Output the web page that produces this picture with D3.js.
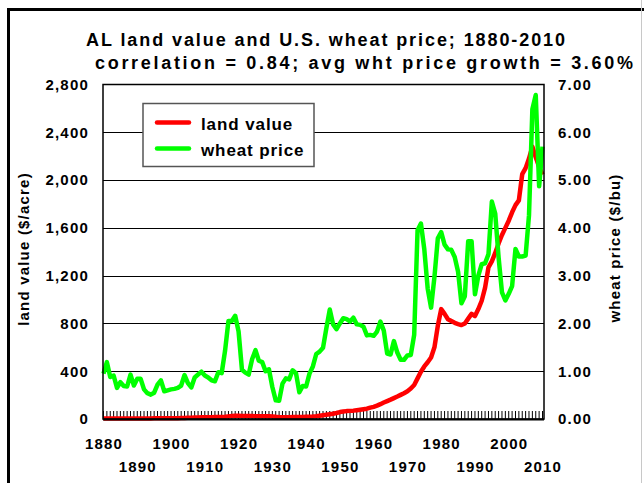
<!DOCTYPE html>
<html>
<head>
<meta charset="utf-8">
<script src="https://cdn.jsdelivr.net/npm/d3@7"></script>
<style>
  body { margin: 0; background: #fff; }
  svg { display: block; font-family: Arial, "Liberation Sans", sans-serif; font-weight: bold; }
</style>
</head>
<body>
<svg id="chart" width="644" height="483"></svg>
<script>
const years = d3.range(1880, 2011);

// AL land value, $/acre
const landValue = [
  4, 4, 4, 5, 5, 5, 5, 5, 5, 5,
  5, 5, 5, 5, 5, 6, 6, 6, 6, 6,
  6, 7, 7, 8, 9, 10, 11, 12, 13, 14,
  14, 15, 15, 16, 16, 17, 19, 22, 25, 28,
  28, 26, 25, 25, 25, 24, 24, 24, 24, 24,
  22, 18, 15, 14, 15, 15, 16, 17, 17, 17,
  18, 19, 21, 24, 28, 32, 36, 40, 44, 50,
  58, 62, 66, 68, 70, 74, 78, 82, 86, 95,
  102, 112, 124, 138, 150, 162, 175, 188, 202, 216,
  232, 255, 285, 340, 395, 440, 475, 515, 600, 780,
  920, 880, 835, 820, 805, 795, 786, 800, 840, 880,
  862, 920, 990, 1100, 1270, 1320, 1390, 1470, 1540, 1600,
  1660, 1730, 1790, 1830, 2050, 2100, 2180, 2280, 2190, 2110,
  2045
];

// U.S. wheat price, $/bu
const wheatPrice = [
  0.95, 1.19, 0.88, 0.91, 0.65, 0.77, 0.69, 0.68, 0.93, 0.70,
  0.84, 0.84, 0.62, 0.54, 0.51, 0.55, 0.72, 0.81, 0.58, 0.60,
  0.62, 0.63, 0.65, 0.70, 0.92, 0.75, 0.66, 0.87, 0.93, 0.99,
  0.91, 0.87, 0.81, 0.79, 0.98, 0.96, 1.43, 2.05, 2.05, 2.16,
  1.83, 1.03, 0.97, 0.93, 1.25, 1.44, 1.22, 1.19, 1.00, 1.04,
  0.67, 0.39, 0.38, 0.74, 0.85, 0.83, 1.02, 0.96, 0.56, 0.69,
  0.68, 0.95, 1.10, 1.36, 1.41, 1.49, 1.90, 2.29, 1.98, 1.88,
  2.00, 2.11, 2.09, 2.04, 2.12, 1.98, 1.97, 1.93, 1.75, 1.76,
  1.74, 1.83, 2.04, 1.85, 1.37, 1.35, 1.63, 1.39, 1.24, 1.24,
  1.33, 1.34, 1.76, 3.95, 4.09, 3.55, 2.73, 2.33, 2.97, 3.78,
  3.91, 3.65, 3.55, 3.54, 3.39, 3.08, 2.42, 2.57, 3.72, 3.72,
  2.61, 3.00, 3.24, 3.26, 3.45, 4.55, 4.30, 3.38, 2.65, 2.48,
  2.62, 2.78, 3.56, 3.40, 3.40, 3.42, 4.26, 6.48, 6.78, 4.87,
  5.70
];

const leftTicks = [0, 400, 800, 1200, 1600, 2000, 2400, 2800];
const rightTicks = [0, 1, 2, 3, 4, 5, 6, 7];
const yearLabelsTop = [1880, 1900, 1920, 1940, 1960, 1980, 2000];
const yearLabelsBottom = [1890, 1910, 1930, 1950, 1970, 1990, 2010];

const svg = d3.select('#chart');

// outer frame (cut off at right and bottom)
svg.append('rect')
  .attr('x', 8.5).attr('y', 9.5)
  .attr('width', 700).attr('height', 600)
  .attr('fill', 'none').attr('stroke', '#000').attr('stroke-width', 3);
svg.append('line')
  .attr('x1', 641.5).attr('x2', 641.5).attr('y1', 0).attr('y2', 483)
  .attr('stroke', '#c8c8c8');

const plot = { left: 103, right: 544, top: 84.5, bottom: 419 };

const x = d3.scaleLinear().domain([1880, 2010]).range([plot.left + 0.5, plot.right - 1.5]);
const yL = d3.scaleLinear().domain([0, 2800]).range([plot.bottom, plot.top]);
const yR = d3.scaleLinear().domain([0, 7]).range([plot.bottom, plot.top]);

// gridlines
svg.append('g')
  .selectAll('line')
  .data(leftTicks.slice(1, -1))
  .join('line')
  .attr('x1', plot.left).attr('x2', plot.right)
  .attr('y1', d => Math.round(yL(d)) + 0.5).attr('y2', d => Math.round(yL(d)) + 0.5)
  .attr('stroke', '#000').attr('stroke-width', 1);

// year ticks along the bottom
svg.append('g')
  .selectAll('line')
  .data(years)
  .join('line')
  .attr('x1', d => x(d)).attr('x2', d => x(d))
  .attr('y1', plot.bottom).attr('y2', plot.bottom - 8)
  .attr('stroke', '#000').attr('stroke-width', 1);

// series
const lineL = d3.line().x((d, i) => x(years[i])).y(d => yL(d));
const lineR = d3.line().x((d, i) => x(years[i])).y(d => yR(d));

svg.append('path')
  .datum(landValue)
  .attr('d', lineL)
  .attr('fill', 'none').attr('stroke', '#ff0000').attr('stroke-width', 4.5)
  .attr('stroke-linejoin', 'round');

svg.append('path')
  .datum(wheatPrice)
  .attr('d', lineR)
  .attr('fill', 'none').attr('stroke', '#00ff00').attr('stroke-width', 4.5)
  .attr('stroke-linejoin', 'round');

// plot frame
svg.append('rect')
  .attr('x', plot.left).attr('y', plot.top)
  .attr('width', plot.right - plot.left).attr('height', plot.bottom - plot.top)
  .attr('fill', 'none').attr('stroke', '#000').attr('stroke-width', 1.5);
svg.append('line')
  .attr('x1', plot.left).attr('x2', plot.right)
  .attr('y1', plot.bottom + 0.5).attr('y2', plot.bottom + 0.5)
  .attr('stroke', '#000').attr('stroke-width', 2);

// axes
const styleAxis = g => {
  g.select('.domain').remove();
  g.selectAll('line').remove();
  g.selectAll('text')
    .attr('font-family', 'Arial, "Liberation Sans", sans-serif')
    .attr('font-weight', 'bold')
    .attr('font-size', 15)
    .attr('letter-spacing', 1.2)
    .attr('fill', '#000');
};

svg.append('g')
  .attr('transform', `translate(${plot.left},0)`)
  .call(d3.axisLeft(yL).tickValues(leftTicks).tickFormat(d3.format(',')).tickSize(0).tickPadding(14))
  .call(styleAxis);

svg.append('g')
  .attr('transform', `translate(${plot.right},0)`)
  .call(d3.axisRight(yR).tickValues(rightTicks).tickFormat(d3.format('.2f')).tickSize(0).tickPadding(14))
  .call(styleAxis);

svg.append('g')
  .attr('transform', `translate(0,${plot.bottom})`)
  .call(d3.axisBottom(x).tickValues(yearLabelsTop).tickFormat(d3.format('d')).tickSize(0).tickPadding(19))
  .call(styleAxis);

svg.append('g')
  .attr('transform', `translate(0,${plot.bottom})`)
  .call(d3.axisBottom(x).tickValues(yearLabelsBottom).tickFormat(d3.format('d')).tickSize(0).tickPadding(42))
  .call(styleAxis);

// axis titles
svg.append('text')
  .attr('transform', 'translate(29,249) rotate(-90)')
  .attr('text-anchor', 'middle')
  .attr('font-size', 15).attr('letter-spacing', 1.2)
  .text('land value ($/acre)');

svg.append('text')
  .attr('transform', 'translate(620,248) rotate(-90)')
  .attr('text-anchor', 'middle')
  .attr('font-size', 15).attr('letter-spacing', 1.2)
  .text('wheat price ($/bu)');

// title
svg.append('text')
  .attr('x', 86).attr('y', 46)
  .attr('font-size', 18)
  .attr('textLength', 479).attr('lengthAdjust', 'spacing')
  .text('AL land value and U.S. wheat price; 1880-2010');

svg.append('text')
  .attr('x', 95).attr('y', 69)
  .attr('font-size', 18)
  .attr('textLength', 538).attr('lengthAdjust', 'spacing')
  .text('correlation = 0.84; avg wht price growth = 3.60%');

// legend
const legend = svg.append('g');
legend.append('rect')
  .attr('x', 143).attr('y', 103.5)
  .attr('width', 171).attr('height', 63)
  .attr('fill', '#fff').attr('stroke', '#555').attr('stroke-width', 1.5);

const legendItems = [
  { label: 'land value', color: '#ff0000' },
  { label: 'wheat price', color: '#00ff00' }
];

legendItems.forEach((item, i) => {
  const yy = 122.5 + i * 26;
  legend.append('line')
    .attr('x1', 157).attr('x2', 189).attr('y1', yy).attr('y2', yy)
    .attr('stroke', item.color).attr('stroke-width', 4.5).attr('stroke-linecap', 'round');
  legend.append('text')
    .attr('x', 201).attr('y', yy + 7)
    .attr('font-size', 17).attr('letter-spacing', 0.9)
    .text(item.label);
});
</script>
</body>
</html>
